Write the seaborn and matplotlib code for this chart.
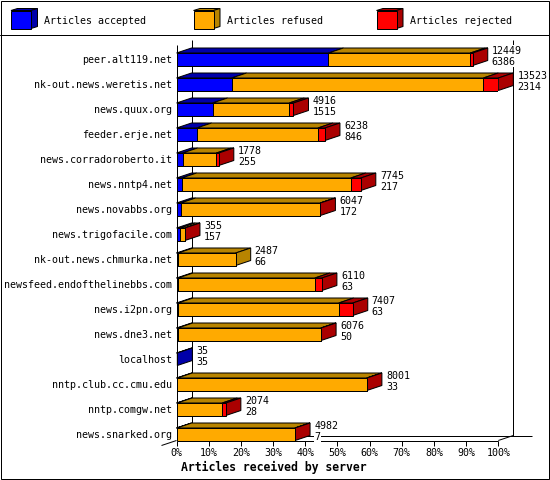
import matplotlib
matplotlib.use("Agg")
import matplotlib.pyplot as plt
from matplotlib.patches import Polygon, Rectangle
import numpy as np
import pandas as pd
import seaborn as sns

servers = ["peer.alt119.net", "nk-out.news.weretis.net", "news.quux.org", "feeder.erje.net",
           "news.corradoroberto.it", "news.nntp4.net", "news.novabbs.org", "news.trigofacile.com",
           "nk-out.news.chmurka.net", "newsfeed.endofthelinebbs.com", "news.i2pn.org", "news.dne3.net",
           "localhost", "nntp.club.cc.cmu.edu", "nntp.comgw.net", "news.snarked.org"]
accepted = [6386, 2314, 1515, 846, 255, 217, 172, 157, 66, 63, 63, 50, 35, 33, 28, 7]
refused = [5963, 10579, 3221, 5096, 1423, 7105, 5865, 193, 2421, 5751, 6754, 6016, 0, 7965, 1891, 4970]
rejected = [100, 630, 180, 296, 100, 423, 10, 5, 0, 296, 590, 10, 0, 3, 155, 5]
series_names = ["Articles accepted", "Articles refused", "Articles rejected"]
pct_labels = [f"{p}%" for p in range(0, 101, 10)]
xlabel = "Articles received by server"

FRONT = ["#0000FF", "#FFAA00", "#FF0000"]
SHADE = ["#0000AA", "#B88400", "#AA0000"]

sns.set_theme(style="white")
plt.rcParams.update({
    "font.family": "DejaVu Sans Mono",
    "text.antialiased": True,
    "patch.antialiased": True,
    "lines.antialiased": True,
    "text.color": "black",
    "axes.labelcolor": "black",
})
FS = 7.2
LW = 0.72
W, H = 550, 480

acc = np.array(accepted, float)
ref = np.array(refused, float)
rej = np.array(rejected, float)
total = acc + ref + rej
xmax = total.max()

fig = plt.figure(figsize=(W / 100, H / 100), dpi=100, facecolor="white")

# pixel-space layer for frame, legend and the 3D box lines
bg = fig.add_axes([0, 0, 1, 1], zorder=0)
bg.set_xlim(0, W)
bg.set_ylim(H, 0)
bg.axis("off")

X0, X1, YT, YB = 176.5, 498.3, 45.0, 440.5
DX, DY = 15.0, 5.0

bg.add_patch(Rectangle((0.5, 0.5), 548.5, 478, fc="none", ec="black", lw=LW))
bg.plot([0, W], [35, 35], color="black", lw=LW)
for xs, ys in [([X0, X0], [YT, YB]),
               ([X0 + DX, X0 + DX], [YT - DY, YB - DY]),
               ([X1 + DX, X1 + DX], [YT - DY, YB - DY]),
               ([X0 + DX, 531.7], [YB - DY, YB - DY]),
               ([X0, X1], [YB, YB]),
               ([X1, X1 + DX], [YB, YB - DY]),
               ([X0 - DX, X0], [YB + DY, YB])]:
    bg.plot(xs, ys, color="black", lw=LW, solid_capstyle="butt")

# legend swatches
for name, front, shade, sx in zip(series_names, FRONT, SHADE, [11, 193.5, 376.5]):
    fx, fy, fw, fh, ddx, ddy = sx, 10.5, 20, 18, 6.5, 2
    bg.add_patch(Polygon([(fx, fy), (fx + fw, fy), (fx + fw + ddx, fy - ddy), (fx + ddx, fy - ddy)],
                         fc=shade, ec="black", lw=LW))
    bg.add_patch(Polygon([(fx + fw, fy), (fx + fw + ddx, fy - ddy), (fx + fw + ddx, fy + fh - ddy), (fx + fw, fy + fh)],
                         fc=shade, ec="black", lw=LW))
    bg.add_patch(Rectangle((fx, fy), fw, fh, fc=front, ec="black", lw=LW))
    bg.text(sx + 33.5, 20.5, name, fontsize=FS, ha="left", va="center")

bg.text(273.8, 467.2, xlabel, fontsize=8.3, fontweight="bold", ha="center", va="center")

# chart axes
ax = fig.add_axes([X0 / W, 1 - YB / H, (X1 - X0) / W, (YB - YT) / H], zorder=1)
ax.patch.set_alpha(0)

df = pd.DataFrame({"server": servers,
                   "c1": acc,
                   "c2": acc + ref,
                   "c3": total})
for col, front in zip(["c3", "c2", "c1"], FRONT[::-1]):
    sns.barplot(data=df, y="server", x=col, order=servers, color=front, saturation=1,
                width=0.5, edgecolor="black", linewidth=LW, ax=ax, orient="h", zorder=3)

ax.set_xlim(0, xmax)
ax.set_ylim(15.25, -0.57)
ax.set_xlabel("")
ax.set_ylabel("")
for s in ax.spines.values():
    s.set_visible(False)
ax.grid(False)
ax.set_xticks(np.linspace(0, xmax, len(pct_labels)))
ax.set_xticklabels(pct_labels, fontsize=FS)
ax.tick_params(axis="x", length=3.6, width=LW, color="black", pad=1.5, bottom=True, labelcolor="black")
ax.tick_params(axis="y", length=0, pad=3.2, labelsize=FS, labelcolor="black")

ddx = xmax * DX / (X1 - X0)
ddy = DY / 25.0
half = 0.25
for i in range(len(servers)):
    edges = [0, acc[i], acc[i] + ref[i], total[i]]
    yt, yb = i - half, i + half
    last = 0
    for k in range(3):
        a, b = edges[k], edges[k + 1]
        if b <= a:
            continue
        last = k
        ax.add_patch(Polygon([(a, yt), (b, yt), (b + ddx, yt - ddy), (a + ddx, yt - ddy)],
                             fc=SHADE[k], ec="black", lw=LW, clip_on=False, zorder=2))
    e = total[i]
    ax.add_patch(Polygon([(e, yt), (e + ddx, yt - ddy), (e + ddx, yb - ddy), (e, yb)],
                         fc=SHADE[last], ec="black", lw=LW, clip_on=False, zorder=2.5))
    tx = e + ddx * 1.27
    for txt, off in [(f"{int(total[i])}", -8.6 / 25), (f"{accepted[i]}", 2.4 / 25)]:
        ax.text(tx, i + off, txt, fontsize=FS, ha="left", va="center", zorder=5, clip_on=False,
                bbox=dict(fc="white", ec="none", pad=0.3))

fig.savefig("out.png", dpi=100)
